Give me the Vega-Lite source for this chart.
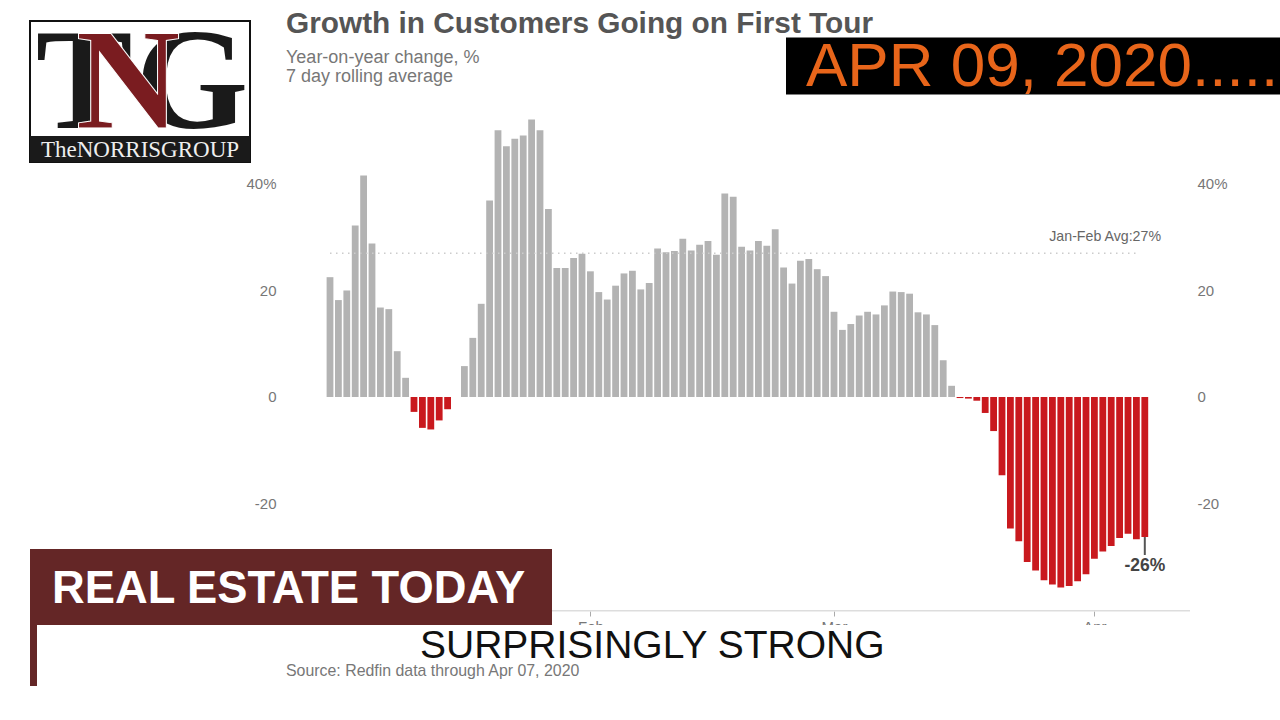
{"$schema":"https://vega.github.io/schema/vega-lite/v6.json","width":1280,"height":720,"padding":0,"autosize":{"type":"none"},"background":"white",
"data":{"values":[{"layer":"annotation"}]},
"title":{"text":"Growth in Customers Going on First Tour","subtitle":["Year-on-year change, %","7 day rolling average"],"anchor":"start","frame":"group","dx":286,"offset":-86,"font":"Liberation Sans","fontSize":29.8,"fontWeight":"bold","color":"#555555","subtitleFont":"Liberation Sans","subtitleFontSize":18,"subtitleColor":"#777777","subtitlePadding":10,"subtitleLineHeight":19.5},
"config":{"view":{"stroke":null},"axis":{"grid":false,"domain":false,"labelFont":"Liberation Sans","labelFontSize":15,"labelColor":"#777777","title":null}},
"resolve":{"axis":{"y":"independent"}},
"layer":[
{"data":{"values":[
{"date":"2020-01-01","growth":22.5},{"date":"2020-01-02","growth":18.2},{"date":"2020-01-03","growth":20.0},{"date":"2020-01-04","growth":32.2},{"date":"2020-01-05","growth":41.6},{"date":"2020-01-06","growth":28.8},{"date":"2020-01-07","growth":16.8},{"date":"2020-01-08","growth":16.5},{"date":"2020-01-09","growth":8.6},{"date":"2020-01-10","growth":3.6},{"date":"2020-01-11","growth":-2.8},{"date":"2020-01-12","growth":-5.8},{"date":"2020-01-13","growth":-6.1},{"date":"2020-01-14","growth":-4.4},{"date":"2020-01-15","growth":-2.3},{"date":"2020-01-16","growth":0},{"date":"2020-01-17","growth":5.8},{"date":"2020-01-18","growth":11.1},{"date":"2020-01-19","growth":17.5},{"date":"2020-01-20","growth":36.9},{"date":"2020-01-21","growth":50.1},{"date":"2020-01-22","growth":47.1},{"date":"2020-01-23","growth":48.5},{"date":"2020-01-24","growth":49.1},{"date":"2020-01-25","growth":52.1},{"date":"2020-01-26","growth":50.1},{"date":"2020-01-27","growth":35.3},{"date":"2020-01-28","growth":24.2},{"date":"2020-01-29","growth":24.2},{"date":"2020-01-30","growth":26.1},{"date":"2020-01-31","growth":26.9},
{"date":"2020-02-01","growth":23.6},{"date":"2020-02-02","growth":19.7},{"date":"2020-02-03","growth":18.3},{"date":"2020-02-04","growth":20.9},{"date":"2020-02-05","growth":23.2},{"date":"2020-02-06","growth":23.7},{"date":"2020-02-07","growth":20.2},{"date":"2020-02-08","growth":21.4},{"date":"2020-02-09","growth":27.9},{"date":"2020-02-10","growth":27.2},{"date":"2020-02-11","growth":27.4},{"date":"2020-02-12","growth":29.7},{"date":"2020-02-13","growth":27.5},{"date":"2020-02-14","growth":28.6},{"date":"2020-02-15","growth":29.3},{"date":"2020-02-16","growth":26.7},{"date":"2020-02-17","growth":38.2},{"date":"2020-02-18","growth":37.6},{"date":"2020-02-19","growth":28.2},{"date":"2020-02-20","growth":27.5},{"date":"2020-02-21","growth":29.3},{"date":"2020-02-22","growth":28.4},{"date":"2020-02-23","growth":31.5},{"date":"2020-02-24","growth":24.3},{"date":"2020-02-25","growth":21.3},{"date":"2020-02-26","growth":25.6},{"date":"2020-02-27","growth":25.9},{"date":"2020-02-28","growth":24.0},{"date":"2020-02-29","growth":22.7},
{"date":"2020-03-01","growth":16.0},{"date":"2020-03-02","growth":12.6},{"date":"2020-03-03","growth":13.7},{"date":"2020-03-04","growth":15.3},{"date":"2020-03-05","growth":16.0},{"date":"2020-03-06","growth":15.5},{"date":"2020-03-07","growth":17.2},{"date":"2020-03-08","growth":19.8},{"date":"2020-03-09","growth":19.7},{"date":"2020-03-10","growth":19.4},{"date":"2020-03-11","growth":15.9},{"date":"2020-03-12","growth":15.5},{"date":"2020-03-13","growth":13.5},{"date":"2020-03-14","growth":6.9},{"date":"2020-03-15","growth":2.1},{"date":"2020-03-16","growth":-0.2},{"date":"2020-03-17","growth":-0.3},{"date":"2020-03-18","growth":-0.7},{"date":"2020-03-19","growth":-3.0},{"date":"2020-03-20","growth":-6.4},{"date":"2020-03-21","growth":-14.7},{"date":"2020-03-22","growth":-24.7},{"date":"2020-03-23","growth":-27.1},{"date":"2020-03-24","growth":-31.0},{"date":"2020-03-25","growth":-32.6},{"date":"2020-03-26","growth":-34.4},{"date":"2020-03-27","growth":-35.2},{"date":"2020-03-28","growth":-35.8},{"date":"2020-03-29","growth":-35.5},{"date":"2020-03-30","growth":-34.6},{"date":"2020-03-31","growth":-33.3},
{"date":"2020-04-01","growth":-30.4},{"date":"2020-04-02","growth":-29.0},{"date":"2020-04-03","growth":-28.0},{"date":"2020-04-04","growth":-26.5},{"date":"2020-04-05","growth":-25.7},{"date":"2020-04-06","growth":-26.7},{"date":"2020-04-07","growth":-26.3}
]},
"mark":{"type":"bar","width":6.8},
"encoding":{
"x":{"field":"date","type":"temporal","scale":{"type":"utc","domain":[1574442514380,1587608228300],"nice":false,"padding":0},"axis":{"values":[1580515200000,1583020800000,1585699200000],"labelExpr":"utcFormat(datum.value,'%b')","offset":-109,"orient":"bottom","tickSize":5,"tickColor":"#aaaaaa","labelPadding":3,"labelFlush":false,"labelOverlap":false}},
"y":{"field":"growth","type":"quantitative","scale":{"domain":[-60.66,74.55],"nice":false,"zero":false},"axis":{"orient":"left","offset":-282,"values":[-20,0,20,40],"ticks":false,"labelPadding":6,"labelExpr":"datum.value==40?'40%':''+datum.value"}},
"color":{"condition":{"test":"datum.growth<0","value":"#c9191e"},"value":"#b3b3b3"}}},
{"mark":{"type":"rule","stroke":"#cccccc","strokeWidth":1.5,"strokeDash":[1.5,4.5]},
"encoding":{"x":{"datum":1577836800000,"type":"temporal"},"x2":{"datum":1586168228340},"y":{"datum":27,"type":"quantitative","axis":{"orient":"right","offset":-90,"values":[-20,0,20,40],"ticks":false,"labelPadding":7,"labelExpr":"datum.value==40?'40%':''+datum.value"}}}},
{"mark":{"type":"text","text":"Jan-Feb Avg:27%","align":"right","baseline":"alphabetic","font":"Liberation Sans","fontSize":14.2,"fill":"#666666"},
"encoding":{"x":{"datum":1586384228334,"type":"temporal"},"y":{"datum":29.35,"type":"quantitative","axis":null}}},
{"mark":{"type":"rule","stroke":"#dddddd","strokeWidth":1.5},
"encoding":{"x":{"datum":1577836800000,"type":"temporal"},"x2":{"datum":1586682514040},"y":{"datum":-40.13,"type":"quantitative","axis":null}}},
{"mark":{"type":"rule","stroke":"#555555","strokeWidth":2},
"encoding":{"x":{"datum":1586217600000,"type":"temporal"},"y":{"datum":-26.3,"type":"quantitative","axis":null},"y2":{"datum":-29.67}}},
{"mark":{"type":"text","text":"-26%","align":"center","baseline":"alphabetic","font":"Liberation Sans","fontSize":17.5,"fontWeight":"bold","fill":"#444444"},
"encoding":{"x":{"datum":1586217600000,"type":"temporal"},"y":{"datum":-32.6,"type":"quantitative","axis":null}}},
{"mark":{"type":"rect","fill":"white"},
"encoding":{"x":{"datum":1574823085798,"type":"temporal"},"x2":{"datum":1587608228300},"y":{"datum":-42.82,"type":"quantitative","axis":null},"y2":{"datum":-60.66}}},
{"mark":{"type":"text","text":"Source: Redfin data through Apr 07, 2020","align":"left","baseline":"alphabetic","font":"Liberation Sans","fontSize":15.9,"fill":"#777777"},
"encoding":{"x":{"datum":1577384228584,"type":"temporal"},"y":{"datum":-52.39,"type":"quantitative","axis":null}}},
{"mark":{"type":"text","text":"SURPRISINGLY STRONG","align":"left","baseline":"alphabetic","font":"Liberation Sans","fontSize":39,"fill":"#111111"},
"encoding":{"x":{"datum":1578762514260,"type":"temporal"},"y":{"datum":-49.01,"type":"quantitative","axis":null}}},
{"mark":{"type":"rect","fill":"#642626"},
"encoding":{"x":{"datum":1574751085800,"type":"temporal"},"x2":{"datum":1580120228508},"y":{"datum":-28.54,"type":"quantitative","axis":null},"y2":{"datum":-42.82}}},
{"mark":{"type":"rect","fill":"#642626"},
"encoding":{"x":{"datum":1574751085800,"type":"temporal"},"x2":{"datum":1574823085798},"y":{"datum":-42.82,"type":"quantitative","axis":null},"y2":{"datum":-54.27}}},
{"mark":{"type":"text","text":"REAL ESTATE TODAY","align":"left","baseline":"alphabetic","font":"Liberation Sans","fontSize":45.3,"fontWeight":"bold","fill":"white"},
"encoding":{"x":{"datum":1574977371508,"type":"temporal"},"y":{"datum":-38.69,"type":"quantitative","axis":null}}},
{"mark":{"type":"rect","fill":"black"},
"encoding":{"x":{"datum":1582527085584,"type":"temporal"},"x2":{"datum":1587608228300},"y":{"datum":67.51,"type":"quantitative","axis":null},"y2":{"datum":56.81}}},
{"mark":{"type":"text","text":"APR 09, 2020.....","align":"left","baseline":"alphabetic","font":"Liberation Sans","fontSize":62,"fill":"#e8651a"},
"encoding":{"x":{"datum":1582732799864,"type":"temporal"},"y":{"datum":58.4,"type":"quantitative","axis":null}}},
{"mark":{"type":"rect","fill":"white","stroke":"#111111","strokeWidth":2},
"encoding":{"x":{"datum":1574751085800,"type":"temporal"},"x2":{"datum":1577013942880},"y":{"datum":70.61,"type":"quantitative","axis":null},"y2":{"datum":44.13}}},
{"mark":{"type":"rect","fill":"#1a1a1a"},
"encoding":{"x":{"datum":1574751085800,"type":"temporal"},"x2":{"datum":1577013942880},"y":{"datum":49.01,"type":"quantitative","axis":null},"y2":{"datum":44.13}}},
{"mark":{"type":"text","text":"TheNORRISGROUP","align":"center","baseline":"alphabetic","font":"Liberation Serif","fontSize":23,"fill":"#eeeeee"},
"encoding":{"x":{"datum":1575882514340,"type":"temporal"},"y":{"datum":45.07,"type":"quantitative","axis":null}}},
{"mark":{"type":"text","text":"T","align":"center","baseline":"alphabetic","font":"Liberation Serif","fontSize":145,"fontWeight":"bold","fill":"#1a1a1a"},
"encoding":{"x":{"datum":1575306514356,"type":"temporal"},"y":{"datum":50.52,"type":"quantitative","axis":null}}},
{"mark":{"type":"text","text":"G","align":"center","baseline":"alphabetic","font":"Liberation Serif","fontSize":145,"fontWeight":"bold","fill":"#1a1a1a"},
"encoding":{"x":{"datum":1576417371468,"type":"temporal"},"y":{"datum":50.52,"type":"quantitative","axis":null}}},
{"mark":{"type":"text","text":"N","align":"center","baseline":"alphabetic","font":"Liberation Serif","fontSize":145,"fontWeight":"bold","fill":"#7a1c20","stroke":"white","strokeWidth":1},
"encoding":{"x":{"datum":1575759085772,"type":"temporal"},"y":{"datum":50.52,"type":"quantitative","axis":null}}}
]}
